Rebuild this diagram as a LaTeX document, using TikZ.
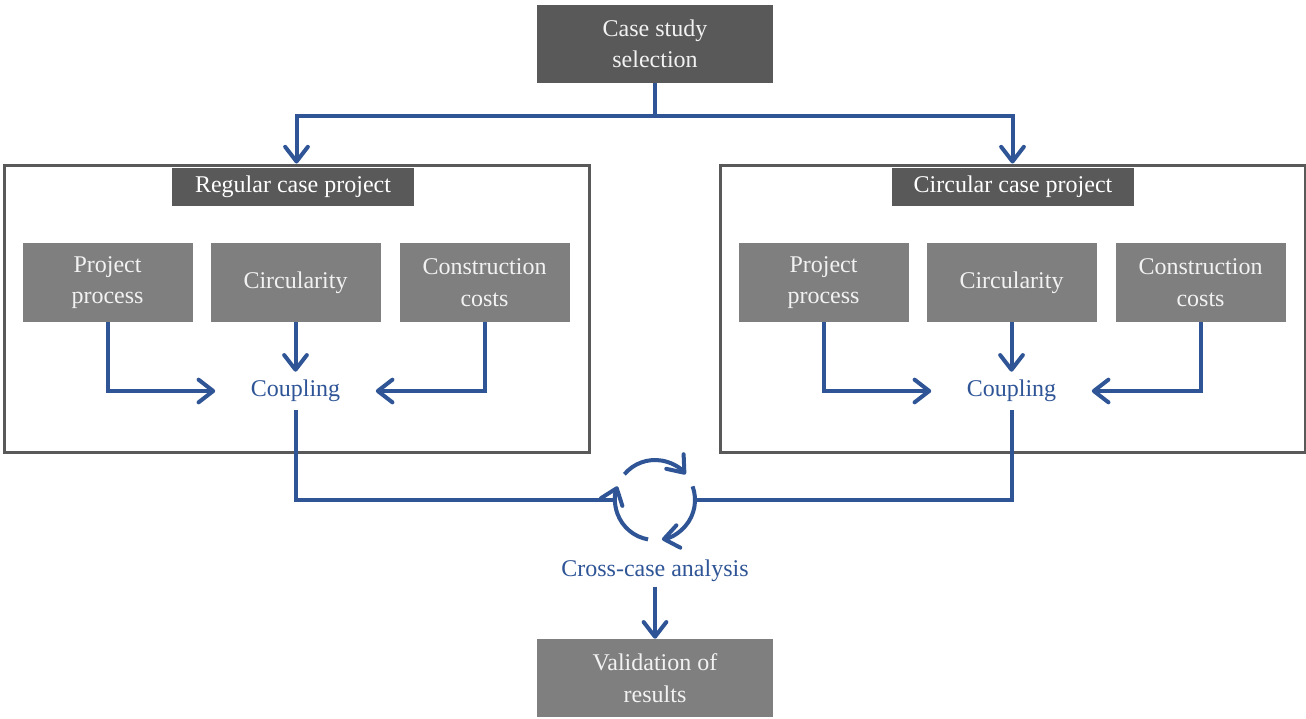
\documentclass[tikz,border=0pt]{standalone}
\usepackage{fontspec}
\setmainfont{Liberation Serif}
\usetikzlibrary{arrows.meta}
\definecolor{flowblue}{HTML}{2F5597}
\definecolor{darkbox}{HTML}{595959}
\definecolor{midbox}{HTML}{7F7F7F}
\definecolor{boxtext}{HTML}{F2F2F2}
\tikzset{
 txt/.style={font=\fontsize{18}{23.5}\selectfont, align=center},
 headbox/.style={txt, fill=darkbox, text=boxtext, minimum width=177pt, minimum height=58.5pt, inner sep=0pt},
 titlebox/.style={txt, fill=darkbox, text=white, minimum width=181.5pt, minimum height=28.5pt, inner sep=0pt},
 topicbox/.style={txt, fill=midbox, text=boxtext, minimum width=127.5pt, minimum height=59.25pt, inner sep=0pt},
 casebox/.style={draw=darkbox, line width=2.25pt, minimum width=438.75pt, minimum height=215.25pt, inner sep=0pt},
 bluetext/.style={txt, text=flowblue},
 coupling/.style={bluetext, fill=white, minimum width=120pt, minimum height=28.5pt, inner sep=0pt},
 link/.style={draw=flowblue, line width=3pt},
 flowarrow/.style={link, -{Straight Barb[length=11pt,width=17pt,round]}},
}
\begin{document}
\begin{tikzpicture}[x=0.75pt,y=-0.75pt]
\path[fill=white,use as bounding box] (0,0) rectangle (1306,718);

\node[headbox] (case) at (655,44) {Case study\\selection};
\node[casebox] (regular) at (296.5,308.5) {};
\node[casebox] (circular) at (1012.5,308.5) {};
\node[titlebox] (regtitle) at (293,187) {Regular case project};
\node[titlebox] (circtitle) at (1013,187) {Circular case project};

\coordinate (split) at (655,116);
\draw[link] (case.south) -- (split);
\draw[flowarrow] (split) -| (regular.north);
\draw[flowarrow] (split) -| (circular.north);

\node[circle, minimum size=60pt, inner sep=0pt] (cyc) at (655,500) {};
\foreach \a in {140,20,-100} {
 \draw[flowarrow] ([shift={(\a:30pt)}]cyc.center) arc[start angle=\a, end angle=\a-100, radius=30pt];
}

\foreach \s/\cx in {reg/296.5, circ/1012.5} {
 \node[topicbox] (\s-proc) at (\cx-189,282.5) {Project\\process};
 \node[topicbox] (\s-circ) at (\cx-1,282.5) {Circularity};
 \node[topicbox] (\s-cost) at (\cx+188,282.5) {Construction\\costs};
 \node[coupling] (\s-coup) at (\cx-1,391) {Coupling};
 \draw[flowarrow] (\s-proc.south) |- (\s-coup.west);
 \draw[flowarrow] (\s-circ.south) -- (\s-coup.north);
 \draw[flowarrow] (\s-cost.south) |- (\s-coup.east);
 \draw[link] (\s-coup.south) |- (cyc);
}

\node[bluetext] (cross) at (655,571) {Cross-case analysis};
\node[headbox, fill=midbox] (valid) at (655,678) {Validation of\\results};
\draw[flowarrow] (cross.south) -- (valid.north);

\end{tikzpicture}
\end{document}
